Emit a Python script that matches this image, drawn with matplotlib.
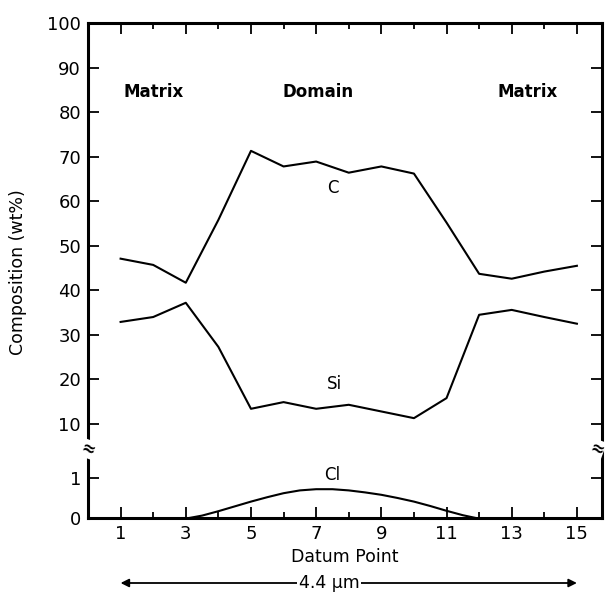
import numpy as np
import matplotlib
matplotlib.use('Agg')
import matplotlib.pyplot as plt

# composition profile across the domain
datum = [1, 2, 3, 4, 5, 6, 7, 8, 9, 10, 11, 12, 13, 14, 15]
carbon = [47.1, 45.7, 41.7, 55.8, 71.3, 67.8, 68.9, 66.4, 67.8, 66.2, 55.2, 43.7, 42.6, 44.2, 45.5]
silicon = [32.9, 34.0, 37.2, 27.3, 13.4, 14.9, 13.4, 14.3, 12.8, 11.3, 15.8, 34.5, 35.6, 34.0, 32.5]

cl_x = [3.1, 3.5, 4, 4.5, 5, 5.5, 6, 6.5, 7, 7.5, 8, 8.5, 9, 9.5, 10, 10.5, 11, 11.5, 11.9]
cl_y = [0, 0.06, 0.17, 0.29, 0.41, 0.52, 0.62, 0.69, 0.72, 0.72, 0.69, 0.64, 0.58, 0.50, 0.41, 0.30, 0.18, 0.07, 0]

upper_ticks = [10, 20, 30, 40, 50, 60, 70, 80, 90, 100]
lower_ticks = [0, 1]
major_x = [1, 3, 5, 7, 9, 11, 13, 15]
minor_x = [2, 4, 6, 8, 10, 12, 14]

plt.rcParams['font.family'] = 'DejaVu Sans'
fig = plt.figure(figsize=(6.06, 5.94), dpi=100)

left, width = 88 / 606, 514 / 606
ax_hi = fig.add_axes([left, 146 / 594, width, 425 / 594])
ax_lo = fig.add_axes([left, 76 / 594, width, 70 / 594])

lw_sp = 2.2
for ax in (ax_hi, ax_lo):
    ax.set_xlim(0, 15.77)
    for s in ax.spines.values():
        s.set_linewidth(lw_sp)
    ax.set_xticks(major_x)
    ax.set_xticks(minor_x, minor=True)
    ax.tick_params(which='major', direction='in', length=8, width=1.3,
                   top=True, right=True, labelsize=13, pad=5)
    ax.tick_params(which='minor', direction='in', length=4.5, width=1.3,
                   top=True, right=True)

ax_hi.spines['bottom'].set_visible(False)
ax_lo.spines['top'].set_visible(False)
ax_hi.tick_params(which='both', bottom=False, labelbottom=False)
ax_lo.tick_params(which='both', top=False)

ax_hi.set_ylim(4.6, 100)
ax_hi.set_yticks(upper_ticks)
ax_lo.set_ylim(0, 1.75)
ax_lo.set_yticks(lower_ticks)

ax_hi.plot(datum, carbon, color='black', lw=1.5)
ax_hi.plot(datum, silicon, color='black', lw=1.5)
ax_lo.plot(cl_x, cl_y, color='black', lw=1.5, clip_on=False)

ax_hi.text(2.0, 84.5, 'Matrix', ha='center', va='center', fontsize=12, fontweight='bold')
ax_hi.text(7.05, 84.5, 'Domain', ha='center', va='center', fontsize=12, fontweight='bold')
ax_hi.text(13.5, 84.5, 'Matrix', ha='center', va='center', fontsize=12, fontweight='bold')
ax_hi.text(7.5, 63, 'C', ha='center', va='center', fontsize=12)
ax_hi.text(7.55, 19, 'Si', ha='center', va='center', fontsize=12)
ax_lo.text(7.5, 1.07, 'Cl', ha='center', va='center', fontsize=12)

# break marks on both vertical spines
for xf in (left, left + width - 5 / 606):
    fig.text(xf, 1 - 449 / 594, '≈', ha='center', va='center', fontsize=12,
             fontweight='bold', rotation=-20,
             bbox=dict(facecolor='white', edgecolor='none', pad=0.1))

fig.text(18 / 606, 1 - 272 / 594, 'Composition (wt%)', rotation=90,
         ha='center', va='center', fontsize=12.5)
fig.text(345 / 606, 1 - 557 / 594, 'Datum Point', ha='center', va='center', fontsize=12.5)

# 4.4 um span arrow under the axis
arrow_y = 1 - 583 / 594
ax_lo.annotate('', xy=(1, arrow_y), xytext=(15, arrow_y),
               xycoords=('data', 'figure fraction'), textcoords=('data', 'figure fraction'),
               arrowprops=dict(arrowstyle='<|-|>', color='black', lw=1.3,
                               mutation_scale=12, shrinkA=0, shrinkB=0))
ax_lo.annotate('4.4 μm', xy=(7.4, arrow_y), xycoords=('data', 'figure fraction'),
               ha='center', va='center', fontsize=12.5,
               bbox=dict(facecolor='white', edgecolor='none', pad=1))

fig.savefig('out.png', dpi=100)
